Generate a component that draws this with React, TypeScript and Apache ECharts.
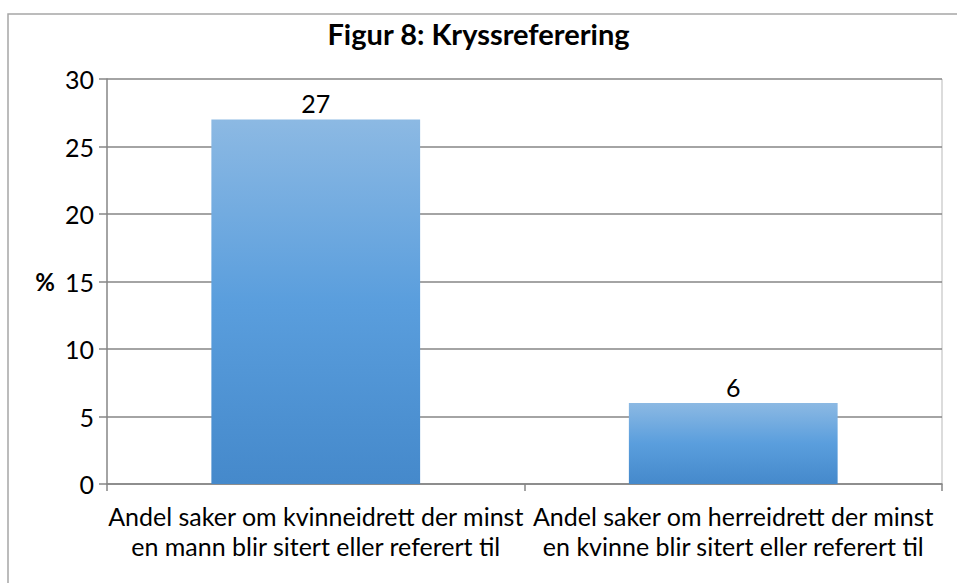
import React, { useEffect, useRef } from "react";
import * as echarts from "echarts";

const categories = [
  "Andel saker om kvinneidrett der minst\nen mann blir sitert eller referert til",
  "Andel saker om herreidrett der minst\nen kvinne blir sitert eller referert til",
];
const values = [27, 6];
const titleText = "Figur 8: Kryssreferering";
const yName = "%";

const FONT = "Lato, 'Open Sans', sans-serif";

export default function App() {
  const ref = useRef<HTMLDivElement>(null);
  useEffect(() => {
    document.body.style.margin = "0";
    const chart = echarts.init(ref.current!, null, { renderer: "svg" });
    chart.setOption({
      animation: false,
      backgroundColor: "#ffffff",
      textStyle: { fontFamily: FONT },
      title: {
        text: titleText,
        left: "center",
        top: 14,
        textStyle: { fontFamily: FONT, fontSize: 29, fontWeight: "bold", color: "#000" },
      },
      graphic: [
        {
          type: "polyline",
          shape: { points: [[8, 600], [8, 14], [970, 14]] },
          style: { stroke: "#a6a6a6", lineWidth: 1.5, fill: "none" },
          silent: true,
        },
        {
          type: "line",
          shape: { x1: 942, y1: 79, x2: 942, y2: 484 },
          style: { stroke: "#d0d0d0", lineWidth: 1.5 },
          silent: true,
        },
      ],
      grid: { left: 107, right: 15, top: 79, bottom: 99, containLabel: false },
      xAxis: {
        type: "category",
        data: categories,
        boundaryGap: true,
        axisLine: { show: true, lineStyle: { color: "#868686", width: 1.5 } },
        axisTick: { show: true, alignWithLabel: false, length: 7, lineStyle: { color: "#868686", width: 1.5 } },
        axisLabel: {
          color: "#000",
          fontSize: 25,
          lineHeight: 30,
          margin: 17,
          interval: 0,
          fontFamily: FONT,
        },
      },
      yAxis: {
        type: "value",
        min: 0,
        max: 30,
        interval: 5,
        name: yName,
        nameLocation: "middle",
        nameRotate: 0,
        nameGap: 52,
        nameTextStyle: { fontFamily: FONT, fontSize: 24, fontWeight: "bold", color: "#000" },
        axisLine: { show: true, lineStyle: { color: "#868686", width: 1.5 } },
        axisTick: { show: true, length: 8, lineStyle: { color: "#868686", width: 1.5 } },
        axisLabel: { color: "#000", fontSize: 25, margin: 13, fontFamily: FONT },
        splitLine: { show: true, lineStyle: { color: "#868686", width: 1.5 } },
      },
      series: [
        {
          type: "bar",
          data: values,
          barWidth: "50%",
          itemStyle: {
            color: new echarts.graphic.LinearGradient(0, 0, 0, 1, [
              { offset: 0, color: "#8cb9e3" },
              { offset: 0.5, color: "#5a9edd" },
              { offset: 1, color: "#4589cb" },
            ]),
          },
          label: {
            show: true,
            position: "top",
            distance: 4,
            color: "#000",
            fontSize: 25,
            fontFamily: FONT,
          },
        },
      ],
    });
    return () => chart.dispose();
  }, []);
  return <div ref={ref} style={{ position: "absolute", left: 0, top: 0, width: 957, height: 583 }} />;
}
